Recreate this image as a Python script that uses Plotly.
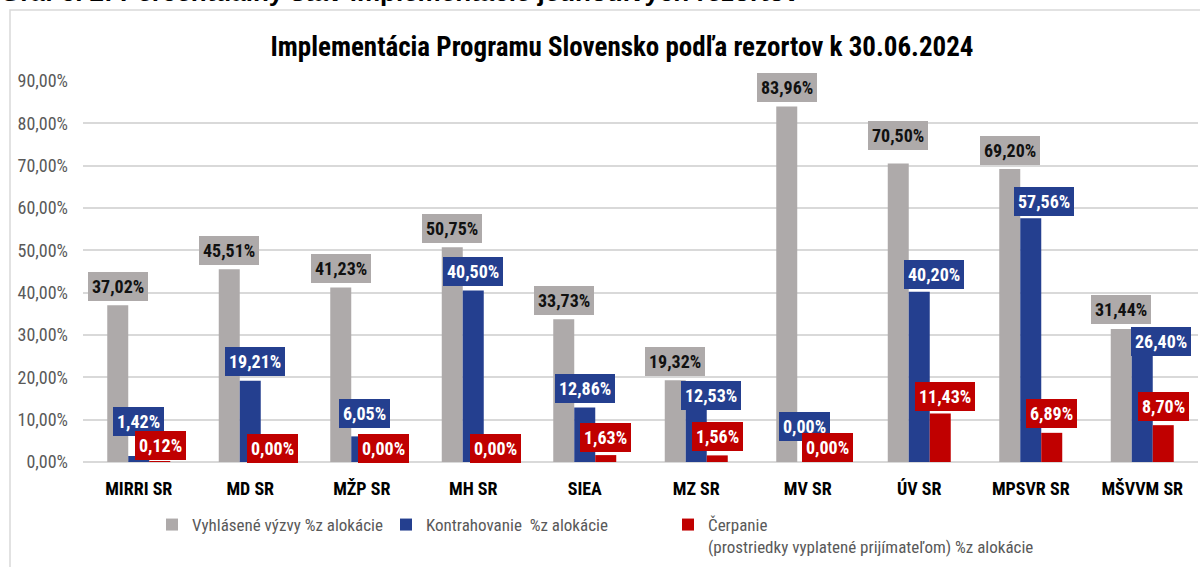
import plotly.graph_objects as go

categories = ["MIRRI SR", "MD SR", "MŽP SR", "MH SR", "SIEA", "MZ SR",
              "MV SR", "ÚV SR", "MPSVR SR", "MŠVVM SR"]
vyzvy = [37.02, 45.51, 41.23, 50.75, 33.73, 19.32, 83.96, 70.50, 69.20, 31.44]
kontrahovanie = [1.42, 19.21, 6.05, 40.50, 12.86, 12.53, 0.00, 40.20, 57.56, 26.40]
cerpanie = [0.12, 0.00, 0.00, 0.00, 1.63, 1.56, 0.00, 11.43, 6.89, 8.70]

series_names = ["Vyhlásené výzvy %z alokácie",
                "Kontrahovanie  %z alokácie",
                "Čerpanie<br>(prostriedky vyplatené prijímateľom) %z alokácie"]
title_text = "Implementácia Programu Slovensko podľa rezortov k 30.06.2024"
header_text = "Graf č. 2: Percentuálny stav implementácie jednotlivých rezortov"
y_ticks = [0, 10, 20, 30, 40, 50, 60, 70, 80, 90]
y_ticktext = [f"{t:.2f}".replace(".", ",") + "%" for t in y_ticks]

# styling
colors = ["#AEAAAA", "#243F8F", "#C00000"]
label_font_colors = ["#111111", "#FFFFFF", "#FFFFFF"]
NARROW = "Liberation Sans Narrow, Arial Narrow, Roboto Condensed, Liberation Sans, Arial, sans-serif"

# label pixel adjustments (dx right, dy down) per series / category
label_adj = [
    [(0, 0)] * 7 + [(0, -9)] + [(0, 0)] * 2,
    [(0, -15), (5, 0), (3, -4), (0, 0), (0, 0), (15, 6), (-3, -17), (15, 2), (13, 2), (19, 10)],
    [(1, 3), (1, 5), (1, 5), (1, 5), (0, 1), (0, 0), (-1, 4), (5, 2), (0, 0), (0, 0)],
]

W, H = 1200, 567
L, R, T, B = 83, 2, 81, 105
pw, ph = W - L - R, H - T - B

def px_to_paper_x(px):
    return (px - L) / pw

def px_to_paper_y(py):
    return (H - B - py) / ph

all_series = [vyzvy, kontrahovanie, cerpanie]
legend_ids = ["legend", "legend2", "legend3"]

fig = go.Figure()
for i, (vals, name) in enumerate(zip(all_series, series_names)):
    fig.add_trace(go.Bar(
        x=categories, y=vals, name=name, marker_color=colors[i],
        marker_line_width=0, legend=legend_ids[i], hoverinfo="skip",
        showlegend=True,
    ))

bar_px = pw / len(categories) * (1 - 0.435) / 3
annotations = []
for i, vals in enumerate(all_series):
    for j, (c, v) in enumerate(zip(categories, vals)):
        dx, dy = label_adj[i][j]
        annotations.append(dict(
            x=c, y=v, xref="x", yref="y",
            text=f"<b>{v:.2f}".replace(".", ",") + "%</b>",
            showarrow=False, xanchor="center", yanchor="middle",
            xshift=(i - 1) * bar_px + dx, yshift=19 - dy,
            bgcolor=colors[i], bordercolor=colors[i], borderwidth=1, borderpad=3,
            font=dict(family=NARROW, size=18, color=label_font_colors[i]),
        ))

annotations.append(dict(
    text=f"<b>{header_text}</b>", xref="paper", yref="paper",
    x=px_to_paper_x(-2), y=px_to_paper_y(9), xanchor="left", yanchor="bottom",
    showarrow=False, font=dict(family="Liberation Sans, Arial", size=26, color="#000000"),
))

shapes = [dict(
    type="rect", xref="paper", yref="paper",
    x0=px_to_paper_x(10), x1=px_to_paper_x(1215),
    y0=px_to_paper_y(580), y1=px_to_paper_y(10),
    line=dict(color="#D9D9D9", width=1.5), fillcolor="rgba(0,0,0,0)", layer="below",
)]

legend_common = dict(
    orientation="h", yanchor="top", xanchor="left", valign="top",
    bgcolor="rgba(0,0,0,0)", itemwidth=30, itemclick=False, itemdoubleclick=False,
    font=dict(family=NARROW, size=17, color="#595959"), tracegroupgap=0,
)
legend_y = px_to_paper_y(507)

fig.update_layout(
    width=W, height=H,
    margin=dict(l=L, r=R, t=T, b=B, autoexpand=False),
    paper_bgcolor="white", plot_bgcolor="white",
    showlegend=True,
    barmode="group", bargap=0.435, bargroupgap=0,
    title=dict(text=f"<b>{title_text}</b>", x=px_to_paper_x(622), xref="paper",
               xanchor="center", y=1 - 47 / H, yanchor="middle",
               font=dict(family=NARROW, size=27, color="#000000")),
    xaxis=dict(showgrid=False, showline=False, ticks="", ticklabelstandoff=14,
               automargin=False,
               tickfont=dict(family=NARROW, size=18, color="#000000"),
               tickprefix="<b>", ticksuffix="</b>"),
    yaxis=dict(range=[0, 90], tickvals=y_ticks, ticktext=y_ticktext,
               automargin=False,
               showgrid=True, gridcolor="#D9D9D9", gridwidth=1.5,
               zeroline=True, zerolinecolor="#D9D9D9", zerolinewidth=1.5,
               showline=False, ticks="", ticklabelstandoff=14,
               tickfont=dict(family=NARROW, size=18, color="#595959")),
    legend=dict(x=px_to_paper_x(152), y=legend_y, **legend_common),
    legend2=dict(x=px_to_paper_x(386), y=legend_y, **legend_common),
    legend3=dict(x=px_to_paper_x(668), y=legend_y, **legend_common),
    annotations=annotations,
    shapes=shapes,
)

fig.write_html("out.html", config={"displayModeBar": False},
               post_script="document.body.style.margin='0px';")
